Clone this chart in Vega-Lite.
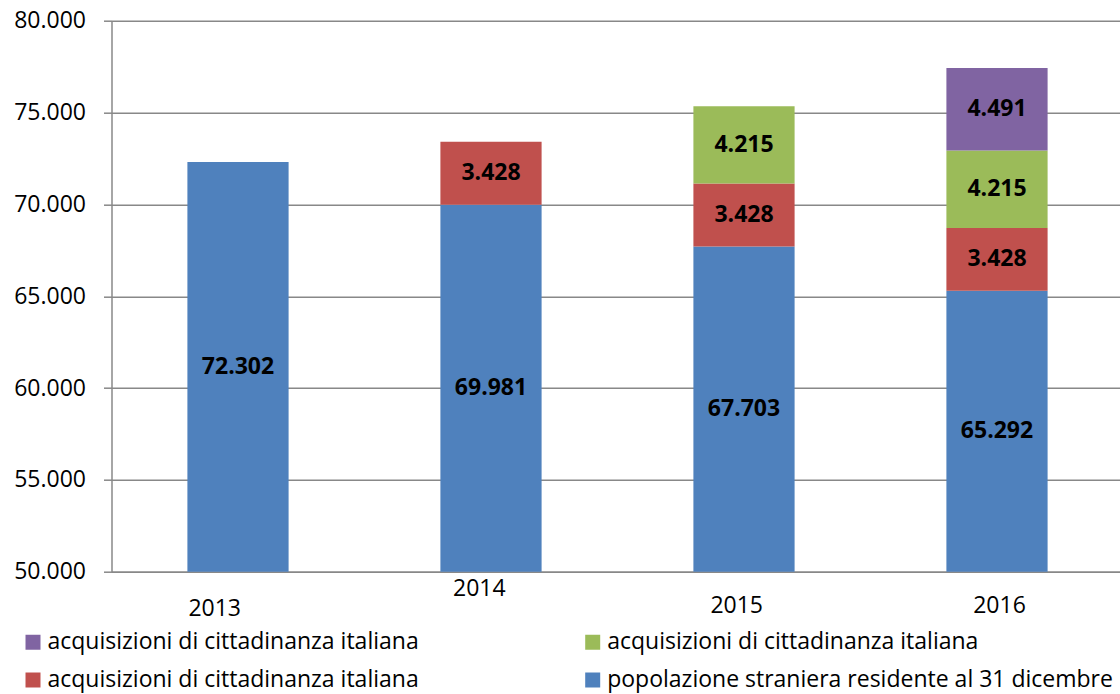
{
  "$schema": "https://vega.github.io/schema/vega-lite/v6.json",
  "width": 1008,
  "height": 551,
  "autosize": {"type": "none"},
  "padding": {"left": 111.5, "top": 20.7, "right": 0, "bottom": 122.3},
  "background": "white",
  "config": {
    "locale": {"number": {"decimal": ",", "thousands": ".", "grouping": [3], "currency": ["€", ""]}},
    "view": {"stroke": null},
    "font": "Open Sans"
  },
  "data": {
    "values": [
      {"year": "2013", "series": "pop", "value": 72302, "order": 1},
      {"year": "2014", "series": "pop", "value": 69981, "order": 1},
      {"year": "2014", "series": "acq2014", "value": 3428, "order": 2},
      {"year": "2015", "series": "pop", "value": 67703, "order": 1},
      {"year": "2015", "series": "acq2014", "value": 3428, "order": 2},
      {"year": "2015", "series": "acq2015", "value": 4215, "order": 3},
      {"year": "2016", "series": "pop", "value": 65292, "order": 1},
      {"year": "2016", "series": "acq2014", "value": 3428, "order": 2},
      {"year": "2016", "series": "acq2015", "value": 4215, "order": 3},
      {"year": "2016", "series": "acq2016", "value": 4491, "order": 4}
    ]
  },
  "transform": [
    {"stack": "value", "groupby": ["year"], "sort": [{"field": "order", "order": "ascending"}], "as": ["v0", "v1"]},
    {"calculate": "max(datum.v0, 50000)", "as": "lo"},
    {"calculate": "(datum.lo + datum.v1) / 2", "as": "mid"}
  ],
  "encoding": {
    "x": {
      "field": "year",
      "type": "nominal",
      "scale": {"range": [0, 1012], "paddingInner": 0.6, "paddingOuter": 0.3},
      "axis": {
        "title": null,
        "ticks": false,
        "domain": true,
        "domainColor": "#888888",
        "domainWidth": 1.5,
        "labelFont": "Open Sans",
        "labelFontSize": 23,
        "labelColor": "#000000",
        "labelAngle": 0,
        "labelOffset": {
          "condition": [
            {"test": "datum.label == '2013'", "value": -23.3},
            {"test": "datum.label == '2014'", "value": -11.7},
            {"test": "datum.label == '2015'", "value": -7.3}
          ],
          "value": 2.5
        },
        "labelPadding": {
          "condition": [
            {"test": "datum.label == '2013'", "value": 25.4},
            {"test": "datum.label == '2014'", "value": 6.1}
          ],
          "value": 22.8
        }
      }
    }
  },
  "layer": [
    {
      "mark": {"type": "bar"},
      "encoding": {
        "y": {
          "field": "lo",
          "type": "quantitative",
          "scale": {"domain": [50000, 80000], "nice": false, "zero": false},
          "axis": {
            "title": null,
            "values": [50000, 55000, 60000, 65000, 70000, 75000, 80000],
            "format": ",.0f",
            "grid": true,
            "gridColor": "#888888",
            "gridWidth": 1.5,
            "domain": true,
            "domainColor": "#888888",
            "domainWidth": 1.5,
            "ticks": true,
            "tickSize": 8,
            "tickColor": "#888888",
            "tickWidth": 1.5,
            "labelFont": "Open Sans",
            "labelFontSize": 23,
            "labelColor": "#000000",
            "labelPadding": 18
          }
        },
        "y2": {"field": "v1"},
        "color": {
          "field": "series",
          "type": "nominal",
          "scale": {
            "domain": ["acq2016", "acq2015", "acq2014", "pop"],
            "range": ["#8064A2", "#9BBB59", "#C0504D", "#4F81BD"]
          },
          "legend": {
            "orient": "none",
            "legendX": -90,
            "legendY": 609.8,
            "columns": 2,
            "direction": "horizontal",
            "title": null,
            "padding": 0,
            "symbolType": "square",
            "symbolSize": 225,
            "symbolStrokeWidth": 0,
            "symbolOpacity": 1,
            "labelFont": "Open Sans",
            "labelFontSize": 23,
            "labelColor": "#000000",
            "labelLimit": 1000,
            "labelOffset": 3,
            "columnPadding": 161.7,
            "rowPadding": 14,
            "labelExpr": "datum.value == 'pop' ? 'popolazione straniera residente al 31 dicembre' : 'acquisizioni di cittadinanza italiana'"
          }
        }
      }
    },
    {
      "mark": {"type": "text", "fontWeight": "bold", "fontSize": 23, "font": "Open Sans", "color": "#000000", "baseline": "middle", "align": "center"},
      "encoding": {
        "y": {"field": "mid", "type": "quantitative"},
        "text": {"field": "value", "type": "quantitative", "format": ",.0f"}
      }
    }
  ]
}
